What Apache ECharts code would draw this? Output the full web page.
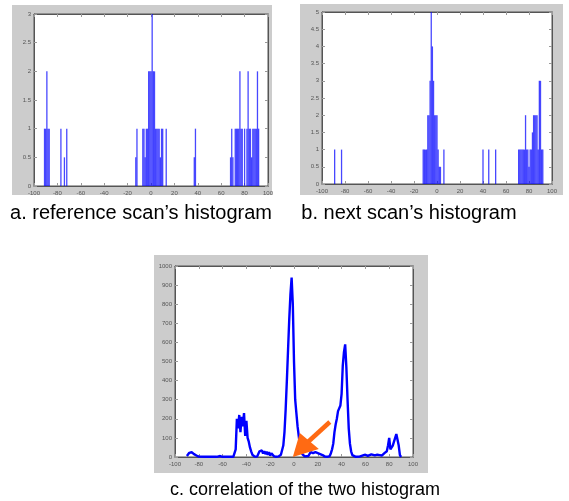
<!DOCTYPE html>
<html>
<head>
<meta charset="utf-8">
<script src="https://cdn.jsdelivr.net/npm/echarts@6/dist/echarts.min.js"></script>
<style>
html,body{margin:0;padding:0;background:#fff;}
#c{width:569px;height:501px;}
</style>
</head>
<body>
<div id="c"></div>
<script>
// ---- Data ----
const captions = ["a. reference scan\u2019s histogram", "b. next scan\u2019s histogram", "c. correlation of the two histogram"];
const xTicks = [-100, -80, -60, -40, -20, 0, 20, 40, 60, 80, 100];

// panel a: histogram of reference scan (angle, count)
const histAAngles = [-91,-90,-89,-88,-87,-77,-74,-72,-13,-12,-7,-6,-5,-4,-3,-2,-1,0,1,2,3,4,5,6,7,8,9,10,13,37,38,68,69,70,72,73,74,75,76,77,78,80,82,83,84,85,86,87,88,89,90,91,92];
const histACounts = [1,1,2,1,1,1,0.5,1,0.5,1,1,1,0.5,1,1,2,2,2,3,2,2,1,1,1,1,0.5,1,1,1,0.5,1,0.5,1,0.5,1,1,1,1,2,1,1,1,1,2,1,1,0.5,1,1,1,1,2,1];

// panel b: histogram of next scan
const histBAngles = [-89,-83,-12,-11,-10,-9,-8,-7,-6,-5,-4,-3,-2,-1,0,1,2,3,6,40,45,51,71,72,73,74,75,76,77,78,79,80,81,82,83,84,85,86,87,88,89,90,91,92];
const histBCounts = [1,1,1,1,1,1,2,2,3,5,4,3,2,2,2,1,0.5,0.5,1,1,1,1,1,1,1,1,1,1,2,1,1,0.5,1,1,1.5,2,2,2,2,1,3,3,1,1];

// panel c: correlation of the two histograms
const corrAngles = [-90,-89,-88,-87,-86,-85,-84,-83,-82,-81,-80,-75,-70,-65,-62,-60,-55,-51,-50,-49,-48,-47,-46,-45,-44,-43,-42,-41,-40,-39,-38,-37,-36,-35,-34,-33,-31,-30,-29,-28,-27,-26,-25,-24,-23,-22,-21,-20,-19,-18,-17,-16,-15,-13,-12,-11,-10,-9,-8,-7,-6,-5,-4,-3,-2,-1,0,1,2,3,4,5,6,7,8,9,10,12,13,14,15,16,17,18,19,20,21,22,23,24,25,26,28,30,31,32,33,34,35,36,37,38,39,40,41,42,43,44,45,46,47,48,49,50,52,55,58,60,62,65,68,70,72,74,75,76,77,78,79,80,81,82,83,84,85,86,87,88,89,90];
const corrValues = [5,15,22,18,25,20,15,20,8,3,2,1,2,1,5,1,2,1,5,40,200,150,220,130,210,160,230,110,190,100,80,50,30,12,5,2,2,10,30,22,35,18,30,15,28,12,25,8,20,10,5,2,1,3,8,12,20,60,130,250,400,560,720,850,940,800,500,300,230,160,110,60,30,15,5,3,2,5,15,25,35,20,30,25,35,20,28,15,20,10,5,2,1,5,20,40,70,130,170,200,240,250,270,330,480,550,590,470,300,150,70,30,10,3,1,2,8,12,6,14,8,12,10,8,15,20,15,30,60,100,40,50,60,70,100,120,110,60,10,0];

// ---- Chart ----
const chart = echarts.init(document.getElementById('c'), null, {renderer: 'canvas'});
const FONT = 'Liberation Sans, Arial, sans-serif';
const grids = [
  {left: 34, top: 14, width: 234, height: 172},
  {left: 322, top: 12, width: 230, height: 172},
  {left: 175, top: 266, width: 238, height: 191}
];
const yCfg = [{max: 3, interval: 0.5}, {max: 5, interval: 0.5}, {max: 1000, interval: 100}];

const xAxes = [], yAxes = [];
grids.forEach((g, i) => {
  const common = {
    gridIndex: i, type: 'value', min: -100, max: 100, interval: 20,
    axisLine: {show: true, onZero: false, lineStyle: {color: '#555', width: 1}},
    axisTick: {show: true, inside: true, length: 3, lineStyle: {color: '#999'}},
    splitLine: {show: false}
  };
  xAxes.push(Object.assign({}, common, {
    position: 'bottom',
    axisLabel: {show: true, fontSize: 6, color: '#555', fontFamily: FONT, margin: 4,
      formatter: v => xTicks.indexOf(v) >= 0 ? String(v) : ''}
  }));
  xAxes.push(Object.assign({}, common, {position: 'top', axisLabel: {show: false}}));
  const yc = {
    gridIndex: i, type: 'value', min: 0, max: yCfg[i].max, interval: yCfg[i].interval,
    axisLine: {show: true, onZero: false, lineStyle: {color: '#555', width: 1}},
    axisTick: {show: true, inside: true, length: 3, lineStyle: {color: '#999'}},
    splitLine: {show: false}
  };
  yAxes.push(Object.assign({}, yc, {
    position: 'left',
    axisLabel: {show: true, fontSize: 6, color: '#555', fontFamily: FONT, margin: 3,
      formatter: v => String(v)}
  }));
  yAxes.push(Object.assign({}, yc, {position: 'right', axisLabel: {show: false}}));
});

const pairs = (xs, ys) => xs.map((x, i) => [x, ys[i]]);

const option = {
  animation: false,
  backgroundColor: '#fff',
  grid: grids.map(g => Object.assign({show: true, backgroundColor: '#fff', borderColor: '#555', borderWidth: 1}, g)),
  xAxis: xAxes,
  yAxis: yAxes,
  title: [
    {text: captions[0], left: 136, top: 198, textAlign: 'center',
      textStyle: {fontSize: 20, fontWeight: 'normal', color: '#000', fontFamily: FONT}},
    {text: captions[1], left: 404, top: 198, textAlign: 'center',
      textStyle: {fontSize: 20, fontWeight: 'normal', color: '#000', fontFamily: FONT}},
    {text: captions[2], left: 300, top: 476, textAlign: 'center',
      textStyle: {fontSize: 18, fontWeight: 'normal', color: '#000', fontFamily: FONT}}
  ],
  series: [
    {type: 'bar', xAxisIndex: 0, yAxisIndex: 0, data: pairs(histAAngles, histACounts),
      barWidth: 1.3, itemStyle: {color: 'rgba(0,0,255,0.72)'}, z: 5},
    {type: 'bar', xAxisIndex: 2, yAxisIndex: 2, data: pairs(histBAngles, histBCounts),
      barWidth: 1.3, itemStyle: {color: 'rgba(0,0,255,0.72)'}, z: 5},
    {type: 'line', xAxisIndex: 4, yAxisIndex: 4, data: pairs(corrAngles, corrValues),
      showSymbol: false, lineStyle: {color: '#0000ff', width: 2.4}, z: 5}
  ],
  graphic: [
    {type: 'rect', shape: {x: 12, y: 5, width: 260, height: 190}, style: {fill: '#cccccc'}, z: -10, silent: true},
    {type: 'rect', shape: {x: 300, y: 4, width: 263, height: 191}, style: {fill: '#cccccc'}, z: -10, silent: true},
    {type: 'rect', shape: {x: 154, y: 255, width: 274, height: 218}, style: {fill: '#cccccc'}, z: -10, silent: true}
  ]
};
chart.setOption(option);

// arrow pointing to angle 0 on the correlation plot
const tip = chart.convertToPixel({xAxisIndex: 4, yAxisIndex: 4}, [-1, 0]);
const tx = tip[0], ty = tip[1];
chart.setOption({
  graphic: option.graphic.concat([
    {type: 'line', shape: {x1: tx + 37, y1: ty - 35, x2: tx + 14, y2: ty - 14},
      style: {stroke: '#ff6a13', lineWidth: 4.5}, z: 20},
    {type: 'polygon', shape: {points: [[tx, ty], [tx + 7, ty - 24], [tx + 26, ty - 8]]},
      style: {fill: '#ff6a13'}, z: 20}
  ])
});
</script>
</body>
</html>
